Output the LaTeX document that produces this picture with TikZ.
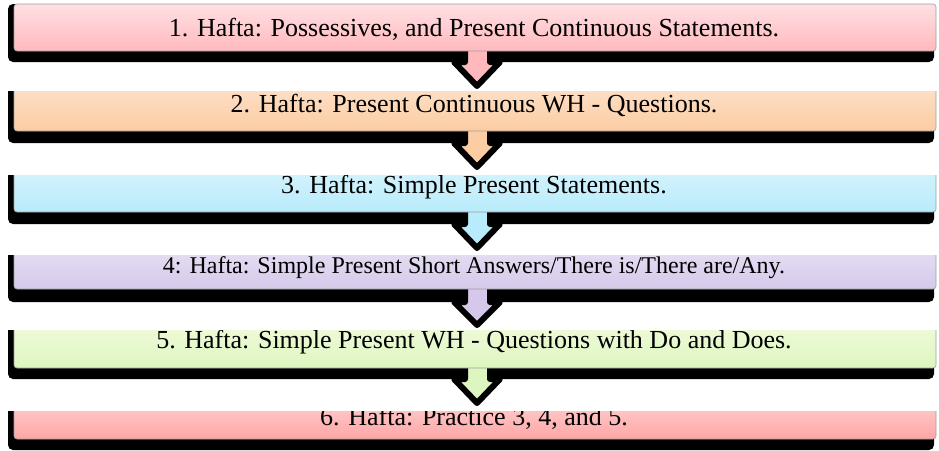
\documentclass[tikz,border=0pt]{standalone}
\usepackage{fontspec}
\setmainfont{Liberation Serif}

\definecolor{onetop}{HTML}{FFE0E3}
\definecolor{onebot}{HTML}{FFB9BD}
\definecolor{twotop}{HTML}{FDE3CC}
\definecolor{twobot}{HTML}{FCCCA3}
\definecolor{threetop}{HTML}{D8F4FD}
\definecolor{threebot}{HTML}{B8EBFB}
\definecolor{fourtop}{HTML}{E8E2F4}
\definecolor{fourbot}{HTML}{D5C8EA}
\definecolor{fivetop}{HTML}{F1FBDC}
\definecolor{fivebot}{HTML}{DDF6C0}
\definecolor{sixtop}{HTML}{FFCFCF}
\definecolor{sixbot}{HTML}{FFA5A5}

\tikzset{
  weekshadow/.style={fill=black, rounded corners=5pt},
  weekbox/.style={draw=gray!75, line width=0.6pt, rounded corners=3pt},
  weektext/.style={anchor=base, inner sep=0pt, font=\fontsize{26}{30}\selectfont},
  weekarrow/.style={draw=black, line width=6pt, line join=round},
}

\begin{document}
\begin{tikzpicture}[x=1pt,y=-1pt]
  \useasboundingbox (0,0) rectangle (939,450);

  % week 1
  \begin{scope}
    \clip (0,0) rectangle (939,450);
    \fill[weekshadow] (8,4) rectangle (934,62);
    \filldraw[weekarrow, fill=onebot] (465,40) -- (490,40) -- (490,62) -- (500,62) -- (477,86) -- (454,62) -- (465,62) -- cycle;
    \shade[weekbox, top color=onetop, bottom color=onebot] (14,4) rectangle (936,51);
    \node[weektext] (w1) at (474,36) {1. Hafta: Possessives, and Present Continuous Statements.};
  \end{scope}

  % week 2
  \begin{scope}
    \clip (0,91) rectangle (939,450);
    \fill[weekshadow] (8,80) rectangle (934,143);
    \filldraw[weekarrow, fill=twobot] (465,120) -- (490,120) -- (490,143) -- (500,143) -- (477,167) -- (454,143) -- (465,143) -- cycle;
    \shade[weekbox, top color=twotop, bottom color=twobot] (14,80) rectangle (936,131);
    \node[weektext] (w2) at (474,112) {2. Hafta: Present Continuous WH - Questions.};
  \end{scope}

  % week 3
  \begin{scope}
    \clip (0,175) rectangle (939,450);
    \fill[weekshadow] (8,164) rectangle (934,224);
    \filldraw[weekarrow, fill=threebot] (465,200) -- (490,200) -- (490,224) -- (500,224) -- (477,248) -- (454,224) -- (465,224) -- cycle;
    \shade[weekbox, top color=threetop, bottom color=threebot] (14,164) rectangle (936,212);
    \node[weektext] (w3) at (474,193) {3. Hafta: Simple Present Statements.};
  \end{scope}

  % week 4
  \begin{scope}
    \clip (0,255) rectangle (939,450);
    \fill[weekshadow] (8,244) rectangle (934,302);
    \filldraw[weekarrow, fill=fourbot] (465,278) -- (490,278) -- (490,302) -- (500,302) -- (477,325) -- (454,302) -- (465,302) -- cycle;
    \shade[weekbox, top color=fourtop, bottom color=fourbot] (14,244) rectangle (936,289);
    \node[weektext, font=\fontsize{24}{28}\selectfont] (w4) at (474,273) {4: Hafta: Simple Present Short Answers/There is/There are/Any.};
  \end{scope}

  % week 5
  \begin{scope}
    \clip (0,330) rectangle (939,450);
    \fill[weekshadow] (8,319) rectangle (934,379);
    \filldraw[weekarrow, fill=fivebot] (465,356) -- (490,356) -- (490,379) -- (500,379) -- (477,403) -- (454,379) -- (465,379) -- cycle;
    \shade[weekbox, top color=fivetop, bottom color=fivebot] (14,319) rectangle (936,368);
    \node[weektext] (w5) at (474,348) {5. Hafta: Simple Present WH - Questions with Do and Does.};
  \end{scope}

  % week 6
  \begin{scope}
    \clip (0,411) rectangle (939,450);
    \fill[weekshadow] (8,400) rectangle (934,450);
    \shade[weekbox, top color=sixtop, bottom color=sixbot] (14,400) rectangle (936,439);
    \node[weektext] (w6) at (474,425) {6. Hafta: Practice 3, 4, and 5.};
  \end{scope}
\end{tikzpicture}
\end{document}
